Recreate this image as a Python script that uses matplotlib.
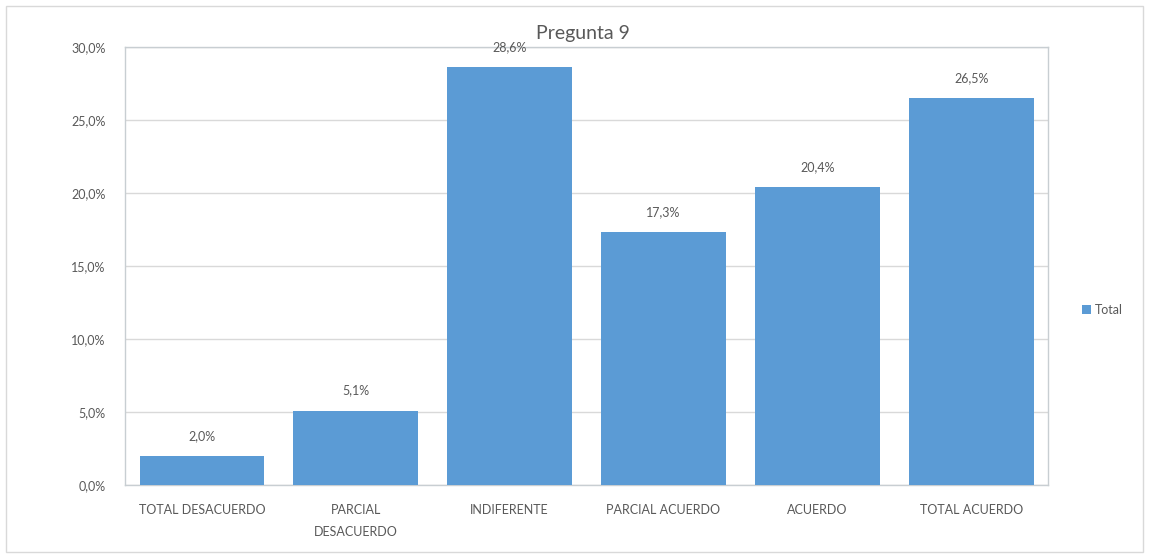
import matplotlib
matplotlib.use("Agg")
import matplotlib.pyplot as plt
from matplotlib.patches import Rectangle

plt.rcParams['font.family'] = ['Lato', 'DejaVu Sans']

categorias = ["TOTAL DESACUERDO", "PARCIAL\nDESACUERDO", "INDIFERENTE",
              "PARCIAL ACUERDO", "ACUERDO", "TOTAL ACUERDO"]
valores = [2.0, 5.1, 28.6, 17.3, 20.4, 26.5]
yticks = [0, 5, 10, 15, 20, 25, 30]

azul = "#5B9BD5"
gris_texto = "#595959"

fig = plt.figure(figsize=(11.49, 5.6), dpi=100)
ax = fig.add_axes([0.1088, 0.134, 0.8035, 0.782])

x = range(len(categorias))
barras = ax.bar(x, valores, width=0.81, color=azul, label="Total", zorder=3)

ax.set_xlim(-0.5, len(categorias) - 0.5)
ax.set_ylim(0, 30)
ax.set_yticks(yticks)
ax.set_yticklabels([f"{v:.1f}%".replace(".", ",") for v in yticks])
ax.set_xticks(list(x))
ax.set_xticklabels(categorias, linespacing=2.0)
ax.tick_params(axis="both", length=0, labelsize=9, colors=gris_texto)
ax.tick_params(axis="x", pad=14)
ax.tick_params(axis="y", pad=14)

ax.grid(axis="y", color="#D9D9D9", linewidth=1, zorder=0)
for lado in ax.spines.values():
    lado.set_color("#C8CED2")
    lado.set_linewidth(1)

# etiquetas de valor encima de cada barra
for b, v in zip(barras, valores):
    ax.annotate(f"{v:.1f}%".replace(".", ","),
                (b.get_x() + b.get_width() / 2, v),
                xytext=(0, 10), textcoords="offset points",
                ha="center", va="bottom", fontsize=9, color=gris_texto,
                annotation_clip=False, zorder=4)

fig.text(0.507, 0.941, "Pregunta 9", ha="center", va="center",
         fontsize=14, color=gris_texto)

ley = fig.legend(loc="center left", bbox_to_anchor=(0.932, 0.446),
                 frameon=False, fontsize=9, handlelength=0.7, handleheight=0.7,
                 handletextpad=0.3)
for t in ley.get_texts():
    t.set_color(gris_texto)

# marco exterior del grafico
fig.patches.append(Rectangle((6 / 1149, 8 / 560), 1137 / 1149, 546 / 560,
                             transform=fig.transFigure, fill=False,
                             edgecolor="#D9D9D9", linewidth=1))

fig.savefig("out.png", dpi=100)
